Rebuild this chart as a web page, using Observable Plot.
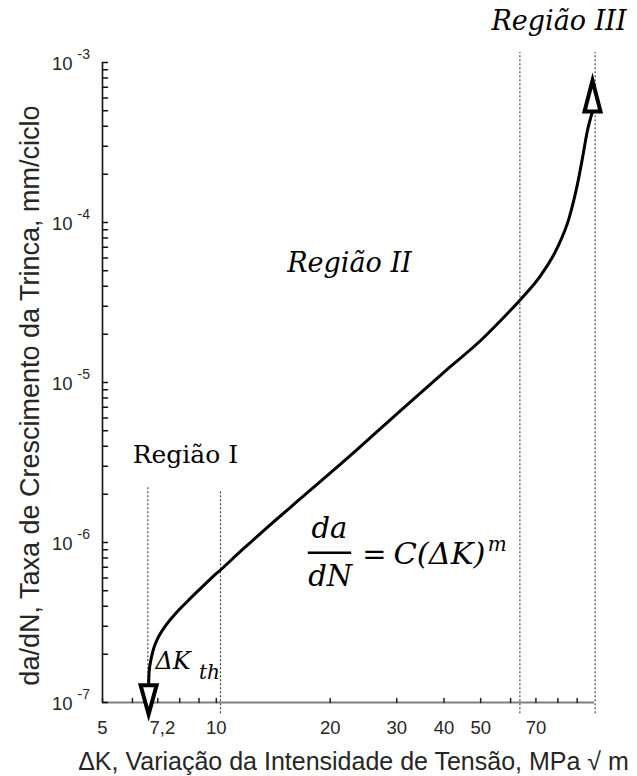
<!DOCTYPE html>
<html><head><meta charset="utf-8">
<script src="https://cdn.jsdelivr.net/npm/d3@7"></script>
<script src="https://cdn.jsdelivr.net/npm/@observablehq/plot@0.6"></script>
<style>
html,body{margin:0;padding:0;background:#fff;}
#chart{width:637px;height:776px;}
</style>
</head><body><div id="chart"></div>
<script>
// ---- data ----
const deltaK = [6.62, 6.64, 6.71, 6.83, 7.02, 7.28, 7.60, 7.98, 8.46, 9.02, 9.64, 10.36, 11.58, 13.62, 16.69, 22.64, 30.70, 41.64, 50.0, 56.48, 64.1, 72.1, 79.8, 85.7, 90.2, 93.0, 95.8, 98.8];
const rate = [1.28e-7, 1.54e-7, 1.83e-7, 2.18e-7, 2.55e-7, 2.94e-7, 3.35e-7, 3.81e-7, 4.38e-7, 5.08e-7, 5.91e-7, 6.88e-7, 8.79e-7, 1.24e-6, 1.88e-6, 3.50e-6, 6.68e-6, 1.26e-5, 1.83e-5, 2.44e-5, 3.35e-5, 4.67e-5, 6.98e-5, 1.07e-4, 1.75e-4, 2.55e-4, 3.76e-4, 4.94e-4];

const xTickValues = [5, 7.2, 10, 20, 30, 40, 50, 70];
const xTickLabels = ["5", "7,2", "10", "20", "30", "40", "50", "70"];
const xMinorTicks = [5, 6, 7, 8, 9, 10, 20, 30, 40, 50, 60, 70, 80, 90];
const yTickExponents = [-7, -6, -5, -4, -3];
const yMantissas = [1, 2, 3, 4, 5, 6, 7, 8, 9];

const boundaryK = [6.59, 10.25, 63.5, 100.4];
const boundaryTop = [2.21e-6, 2.11e-6, 1.155e-3, 1.155e-3];
const boundaryBottom = [8.5e-8, 8.5e-8, 8.5e-8, 8.5e-8];

const xLabel = "ΔK, Variação da Intensidade de Tensão, MPa √ m";
const yLabel = "da/dN, Taxa de Crescimento da Trinca, mm/ciclo";

const regionItalicText = ["Região III", "Região II"];
const regionItalicK = [80.6, 22.5];
const regionItalicRate = [1.6e-3, 4.87e-5];
const regionUprightText = ["Região I"];
const regionUprightK = [8.28];
const regionUprightRate = [3.12e-6];

// formula pieces
const fracText = ["da", "dN"];
const fracK = [19.9, 20.0];
const fracRate = [1.06e-6, 5.38e-7];
const fracBarK = [17.5, 22.8];
const fracBarRate = [8.63e-7];
const rhsText = ["C(ΔK)"];
const rhsK = [29.4];
const rhsRate = [7.39e-7];
const eqK = [24.3];
const expText = ["m"];
const expK = [52.2];
const expRate = [8.91e-7];
const thText = ["ΔK", "th"];
const thK = [6.9, 9.0];
const thRate = [1.63e-7, 1.41e-7];

// ---- build ----
const curve = deltaK.map((k, i) => ({k, r: rate[i]}));
const boundaries = boundaryK.map((k, i) => ({k, top: boundaryTop[i], bottom: boundaryBottom[i]}));
const yMinor = [];
for (const e of yTickExponents.slice(0, -1)) for (const m of yMantissas) yMinor.push(m * 10 ** e);
yMinor.push(10 ** yTickExponents[yTickExponents.length - 1]);

const lineShape = {draw(ctx, l) { ctx.moveTo(0, 0); ctx.lineTo(0, -l); }};
const triShape = {draw(ctx, l) { ctx.moveTo(0, -l); ctx.lineTo(-8, 0); ctx.lineTo(8, 0); ctx.closePath(); }};

const serif = "'DejaVu Serif', serif";
const sans = "'Liberation Sans', Arial, sans-serif";

const plot = Plot.plot({
  width: 637, height: 776,
  marginLeft: 102, marginRight: 43, marginTop: 62, marginBottom: 74,
  x: {type: "log", domain: [5, 100], axis: null},
  y: {type: "log", domain: [1e-7, 1e-3], axis: null},
  style: {fontFamily: sans, background: "white", color: "black"},
  marks: [
    Plot.ruleX(boundaries, {x: "k", y1: "bottom", y2: "top", stroke: "#222", strokeWidth: 1, strokeDasharray: "2,2"}),
    Plot.ruleY([1e-7], {stroke: "#7f7f7f", strokeWidth: 2}),
    Plot.ruleX([5], {stroke: "#111", strokeWidth: 1.6}),
    Plot.vector(xMinorTicks, {x: d => d, y: () => 1e-7, length: 4, rotate: 0, anchor: "start", shape: lineShape, stroke: "#222", strokeWidth: 1.5}),
    Plot.vector(yMinor, {x: () => 5, y: d => d, length: 5, rotate: 90, anchor: "start", shape: lineShape, stroke: "#111", strokeWidth: 1.5}),
    Plot.text(xTickValues, {x: d => d, y: () => 1e-7, text: (d, i) => xTickLabels[i], dy: 26, fontSize: 18.5, fill: "#262626"}),
    Plot.text(yTickExponents, {x: () => 5, y: e => 10 ** e, text: () => "10", textAnchor: "end", dx: -30, dy: 2, fontSize: 18.5, fill: "#262626"}),
    Plot.text(yTickExponents, {x: () => 5, y: e => 10 ** e, text: e => String(e), textAnchor: "start", dx: -25, dy: -8, fontSize: 14, fill: "#262626"}),
    Plot.text([xLabel], {frameAnchor: "bottom", textAnchor: "middle", lineAnchor: "middle", dx: 5, dy: 59, fontSize: 25, fill: "#262626"}),
    Plot.text([yLabel], {frameAnchor: "left", textAnchor: "middle", lineAnchor: "middle", rotate: -90, dx: -72, dy: 13, fontSize: 27, fill: "#262626"}),
    Plot.line(curve, {x: "k", y: "r", stroke: "black", strokeWidth: 3, curve: "monotone-x"}),
    Plot.vector([curve[0]], {x: "k", y: "r", rotate: 180, length: 29, anchor: "start", shape: triShape, fill: "white", stroke: "black", strokeWidth: 4, strokeLinejoin: "miter", strokeMiterlimit: 10}),
    Plot.vector([curve[curve.length - 1]], {x: "k", y: "r", rotate: 0, length: 31, anchor: "start", shape: triShape, fill: "white", stroke: "black", strokeWidth: 4, strokeLinejoin: "miter", strokeMiterlimit: 10}),
    Plot.text(regionItalicText, {x: (d, i) => regionItalicK[i], y: (d, i) => regionItalicRate[i], text: d => d, lineAnchor: "bottom", fontFamily: serif, fontStyle: "italic", fontSize: 27, fill: "black"}),
    Plot.text(regionUprightText, {x: (d, i) => regionUprightK[i], y: (d, i) => regionUprightRate[i], text: d => d, lineAnchor: "bottom", fontFamily: serif, fontSize: 25, fill: "black"}),
    Plot.text(fracText, {x: (d, i) => fracK[i], y: (d, i) => fracRate[i], text: d => d, lineAnchor: "bottom", fontFamily: serif, fontStyle: "italic", fontSize: 29, fill: "black"}),
    Plot.ruleY(fracBarRate, {x1: () => fracBarK[0], x2: () => fracBarK[1], stroke: "black", strokeWidth: 2.5}),
    Plot.text(["="], {x: () => eqK[0], y: () => rhsRate[0], text: d => d, textAnchor: "start", lineAnchor: "bottom", fontFamily: serif, fontSize: 29, fill: "black"}),
    Plot.text(rhsText, {x: (d, i) => rhsK[i], y: (d, i) => rhsRate[i], text: d => d, textAnchor: "start", lineAnchor: "bottom", fontFamily: serif, fontStyle: "italic", fontSize: 30.5, fill: "black"}),
    Plot.text(expText, {x: (d, i) => expK[i], y: (d, i) => expRate[i], text: d => d, textAnchor: "start", lineAnchor: "bottom", fontFamily: serif, fontStyle: "italic", fontSize: 20, fill: "black"}),
    Plot.text(thText, {x: (d, i) => thK[i], y: (d, i) => thRate[i], text: d => d, textAnchor: "start", lineAnchor: "bottom", fontFamily: serif, fontStyle: "italic", fontSize: (d, i) => i === 0 ? 24 : 20, fill: "black"})
  ]
});
document.getElementById("chart").appendChild(plot);
</script>
</body></html>
